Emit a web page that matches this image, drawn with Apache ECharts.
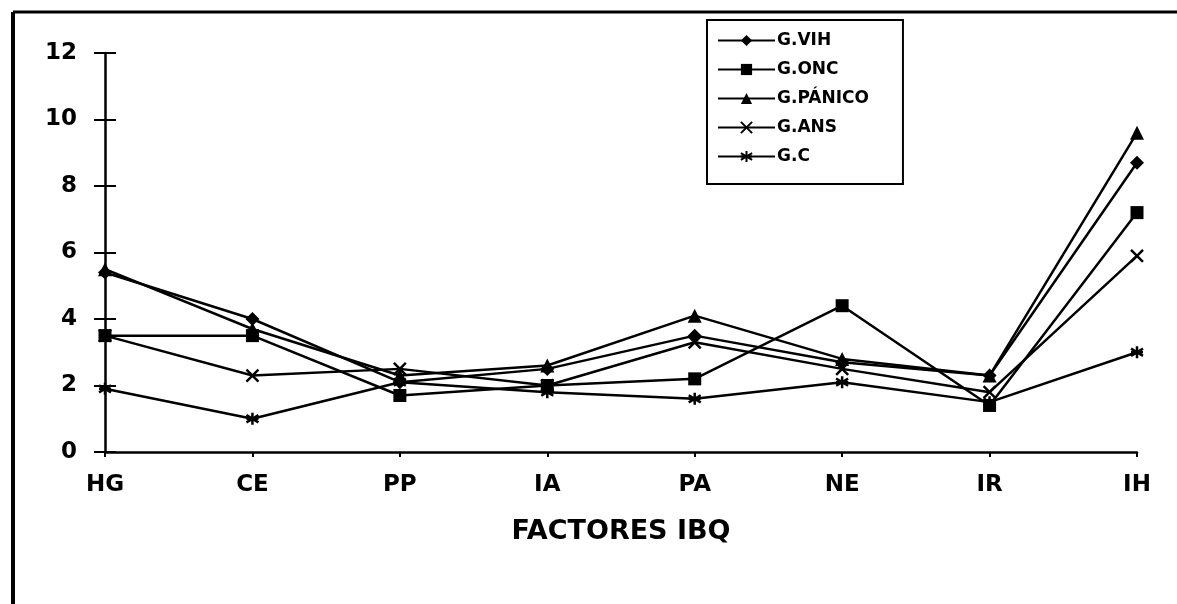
<!DOCTYPE html>
<html>
<head>
<meta charset="utf-8">
<script src="https://cdn.jsdelivr.net/npm/echarts@6/dist/echarts.min.js"></script>
<style>
html, body { margin: 0; padding: 0; background: #fff; }
#main { width: 1177px; height: 604px; }
</style>
</head>
<body>
<div id="main"></div>
<script>
var categories = ['HG', 'CE', 'PP', 'IA', 'PA', 'NE', 'IR', 'IH'];
var yTicks = [0, 2, 4, 6, 8, 10, 12];
var gVIH = [5.4, 4.0, 2.1, 2.5, 3.5, 2.7, 2.3, 8.7];
var gONC = [3.5, 3.5, 1.7, 2.0, 2.2, 4.4, 1.4, 7.2];
var gPANICO = [5.5, 3.7, 2.3, 2.6, 4.1, 2.8, 2.3, 9.6];
var gANS = [3.5, 2.3, 2.5, 2.0, 3.3, 2.5, 1.8, 5.9];
var gC = [1.9, 1.0, 2.1, 1.8, 1.6, 2.1, 1.5, 3.0];

var font = '"DejaVu Sans", "Liberation Sans", Arial, sans-serif';
var xSym = 'path://M0,0L10,10M10,0L0,10';
var starSym = 'path://M5,0L5,10M0,2L10,8M10,2L0,8M0,5L10,5';

function mkSeries(name, data, symbol, size, stroke) {
	return {
		name: name,
		type: 'line',
		data: data,
		symbol: symbol,
		symbolSize: size,
		lineStyle: { color: '#000', width: 2.5 },
		itemStyle: stroke
			? { color: '#000', borderColor: '#000', borderWidth: 2.5 }
			: { color: '#000', borderWidth: 0 },
		emphasis: { disabled: true },
		z: 3
	};
}

var myChart = echarts.init(document.getElementById('main'));
var option = {
	animation: false,
	backgroundColor: '#fff',
	textStyle: { fontFamily: font },
	graphic: [
		{ type: 'line', shape: { x1: 13, y1: 12, x2: 1177, y2: 12 }, style: { stroke: '#000', lineWidth: 3 } },
		{ type: 'line', shape: { x1: 13, y1: 12, x2: 13, y2: 604 }, style: { stroke: '#000', lineWidth: 4 } }
	],
	legend: {
		orient: 'vertical',
		left: 707,
		top: 20,
		padding: [12, 34, 19, 10],
		itemGap: 12,
		itemWidth: 57,
		itemHeight: 14,
		borderColor: '#000',
		borderWidth: 2,
		textStyle: { fontFamily: font, fontWeight: 'bold', fontSize: 17, color: '#000', padding: [0, 0, 0, -3] },
		data: ['G.VIH', 'G.ONC', 'G.PÁNICO', 'G.ANS', 'G.C']
	},
	grid: { left: 105, right: 40, top: 53, bottom: 152 },
	xAxis: {
		type: 'category',
		boundaryGap: false,
		data: categories,
		name: 'FACTORES IBQ',
		nameLocation: 'middle',
		nameGap: 66,
		nameTextStyle: { fontFamily: font, fontWeight: 'bold', fontSize: 27, color: '#000' },
		axisLine: { lineStyle: { color: '#000', width: 2.5 } },
		axisTick: { show: true, alignWithLabel: true, length: 5, lineStyle: { color: '#000', width: 2 } },
		axisLabel: { margin: 22, fontFamily: font, fontWeight: 'bold', fontSize: 23, color: '#000', interval: 0 },
		splitLine: { show: false }
	},
	yAxis: [
		{
			type: 'value',
			min: yTicks[0],
			max: yTicks[yTicks.length - 1],
			interval: 2,
			axisLine: { show: true, lineStyle: { color: '#000', width: 2.5 } },
			axisTick: { show: true, length: 11, lineStyle: { color: '#000', width: 2 } },
			axisLabel: { margin: 28, fontFamily: font, fontWeight: 'bold', fontSize: 23, color: '#000' },
			splitLine: { show: false }
		},
		{
			type: 'value',
			position: 'left',
			min: yTicks[0],
			max: yTicks[yTicks.length - 1],
			interval: 2,
			axisLine: { show: false },
			axisTick: { show: true, inside: true, length: 11, lineStyle: { color: '#000', width: 2 } },
			axisLabel: { show: false },
			splitLine: { show: false }
		}
	],
	series: [
		mkSeries('G.VIH', gVIH, 'diamond', 14, false),
		mkSeries('G.ONC', gONC, 'rect', 13, false),
		mkSeries('G.PÁNICO', gPANICO, 'triangle', 14, false),
		mkSeries('G.ANS', gANS, xSym, 12, true),
		mkSeries('G.C', gC, starSym, 12, true)
	]
};
myChart.setOption(option);
</script>
</body>
</html>
